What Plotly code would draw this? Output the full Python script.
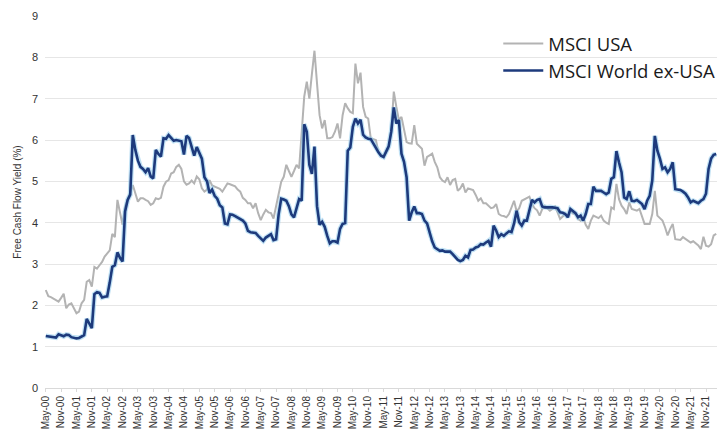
import pandas as pd
import plotly.graph_objects as go

start_month = "2000-05-01"

# MSCI World ex-USA free cash flow yield (%), monthly from May-00
world_ex_usa = (
    [1.26, 1.25, 1.24, 1.23, 1.22, 1.30, 1.27, 1.25, 1.29, 1.28, 1.23, 1.22]
    + [1.20, 1.21, 1.24, 1.28, 1.67, 1.57, 1.45, 2.27, 2.32, 2.30, 2.19, 2.21]
    + [2.22, 2.55, 2.93, 2.97, 3.28, 3.15, 3.06, 4.27, 4.55, 4.68, 6.12, 5.76]
    + [5.50, 5.35, 5.30, 5.22, 5.32, 5.12, 5.07, 5.76, 5.66, 5.60, 6.04, 6.03]
    + [6.12, 6.05, 5.98, 6.00, 5.99, 5.97, 5.65, 6.10, 6.05, 5.85, 5.62, 5.83]
    + [5.70, 5.55, 5.10, 5.00, 4.72, 4.80, 4.65, 4.58, 4.42, 4.37, 3.98, 3.96]
    + [4.20, 4.19, 4.16, 4.12, 4.09, 4.05, 3.98, 3.80, 3.77, 3.76, 3.75, 3.68]
    + [3.62, 3.56, 3.64, 3.68, 3.72, 3.58, 3.60, 4.20, 4.58, 4.56, 4.53, 4.40]
    + [4.20, 4.13, 4.37, 4.57, 4.53, 6.38, 6.20, 5.40, 5.18, 5.84, 4.40, 3.95]
    + [4.02, 3.90, 3.68, 3.50, 3.55, 3.55, 3.52, 3.85, 3.97, 3.99, 5.74, 5.82]
    + [6.32, 6.52, 6.40, 6.49, 6.13, 6.06, 6.03, 6.02, 5.92, 5.80, 5.70, 5.62]
    + [5.59, 5.72, 5.85, 6.20, 6.79, 6.40, 6.48, 5.67, 5.47, 5.10, 4.05, 4.25]
    + [4.39, 4.23, 4.23, 4.21, 4.05, 3.98, 3.75, 3.55, 3.40, 3.35, 3.32, 3.33]
    + [3.30, 3.30, 3.30, 3.24, 3.18, 3.10, 3.07, 3.10, 3.20, 3.16, 3.34, 3.35]
    + [3.40, 3.42, 3.48, 3.47, 3.52, 3.56, 3.42, 3.93, 3.81, 3.65, 3.72, 3.68]
    + [3.74, 3.79, 3.77, 3.98, 4.29, 4.01, 3.93, 4.05, 4.05, 4.29, 4.55, 4.49]
    + [4.55, 4.57, 4.39, 4.37, 4.37, 4.38, 4.37, 4.36, 4.35, 4.25, 4.24, 4.21]
    + [4.13, 4.33, 4.28, 4.23, 4.13, 4.17, 4.05, 4.21, 4.45, 4.45, 4.87, 4.77]
    + [4.77, 4.77, 4.73, 4.69, 4.73, 5.06, 5.10, 5.73, 5.46, 5.22, 4.61, 4.57]
    + [4.76, 4.53, 4.52, 4.55, 4.50, 4.45, 4.33, 4.53, 4.65, 5.02, 6.10, 5.74]
    + [5.55, 5.30, 5.34, 5.22, 5.30, 5.46, 4.81, 4.80, 4.79, 4.75, 4.70, 4.61]
    + [4.49, 4.53, 4.50, 4.47, 4.53, 4.57, 4.70, 5.30, 5.55, 5.64, 5.66]
)

# MSCI USA free cash flow yield (%), monthly from May-00
usa = (
    [2.37, 2.22, 2.20, 2.17, 2.12, 2.09, 2.18, 2.28, 1.93, 2.02, 2.05, 1.92]
    + [1.81, 1.85, 2.05, 2.13, 2.57, 2.61, 2.45, 2.93, 2.89, 2.97, 3.05, 3.18]
    + [3.25, 3.33, 3.73, 3.65, 4.55, 4.25, 3.95, 4.39, 4.55, 4.71, 4.91, 4.71]
    + [4.51, 4.59, 4.59, 4.55, 4.52, 4.43, 4.47, 4.59, 4.57, 4.60, 4.87, 4.99]
    + [5.03, 5.19, 5.22, 5.35, 5.40, 5.30, 5.00, 4.92, 4.95, 5.02, 4.95, 5.12]
    + [5.05, 4.83, 4.75, 4.80, 5.03, 4.90, 4.87, 4.85, 4.82, 4.75, 4.85, 4.95]
    + [4.93, 4.91, 4.88, 4.80, 4.75, 4.60, 4.55, 4.47, 4.47, 4.35, 4.47, 4.23]
    + [4.06, 4.20, 4.31, 4.25, 4.23, 4.10, 4.39, 4.70, 4.99, 5.11, 5.40, 5.25]
    + [5.11, 5.25, 5.40, 5.31, 6.32, 7.05, 7.41, 7.00, 7.60, 8.16, 7.37, 6.60]
    + [6.28, 6.48, 6.04, 6.04, 6.07, 6.20, 6.40, 6.04, 6.60, 6.89, 6.77, 6.68]
    + [6.65, 7.85, 7.37, 7.63, 6.80, 6.56, 6.52, 6.04, 6.02, 6.00, 5.71, 5.65]
    + [5.59, 5.70, 5.79, 6.23, 7.17, 6.80, 6.48, 6.56, 6.23, 5.95, 5.92, 5.91]
    + [6.36, 5.91, 5.85, 5.79, 5.38, 5.59, 5.63, 5.67, 5.47, 5.34, 5.10, 5.02]
    + [4.98, 5.10, 4.91, 5.03, 5.06, 4.77, 4.83, 4.95, 4.73, 4.83, 4.81, 4.79]
    + [4.67, 4.53, 4.59, 4.47, 4.47, 4.41, 4.35, 4.37, 4.45, 4.21, 4.17, 4.16]
    + [4.13, 4.21, 4.35, 4.53, 4.27, 4.35, 4.53, 4.57, 4.61, 4.63, 4.45, 4.35]
    + [4.30, 4.17, 4.33, 4.41, 4.35, 4.29, 4.33, 4.39, 4.25, 4.09, 4.15, 4.21]
    + [4.17, 4.29, 4.22, 4.21, 4.09, 4.05, 4.13, 3.95, 3.85, 4.05, 4.17, 4.14]
    + [4.11, 4.17, 4.05, 4.00, 3.97, 4.37, 4.33, 4.94, 4.57, 4.41, 4.33, 4.21]
    + [4.49, 4.33, 4.30, 4.29, 4.33, 4.13, 3.97, 3.97, 3.97, 4.21, 4.77, 4.17]
    + [4.10, 4.05, 3.89, 3.69, 3.85, 3.97, 3.60, 3.59, 3.58, 3.65, 3.60, 3.56]
    + [3.52, 3.55, 3.50, 3.45, 3.36, 3.66, 3.44, 3.42, 3.48, 3.69, 3.73]
)

assert len(usa) == len(world_ex_usa), (len(usa), len(world_ex_usa))
n = len(usa)
months = pd.date_range(start_month, periods=n, freq="MS")
month_labels = [d.strftime("%b-%y") for d in months]
x_idx = list(range(n))
tick_vals = x_idx[::6]
tick_text = month_labels[::6]

axis_font = dict(family="Liberation Sans, Arial", size=10, color="#333333")

fig = go.Figure()
fig.add_trace(go.Scatter(
    x=x_idx, y=usa, mode="lines", name="MSCI USA",
    line=dict(color="#b3b3b3", width=2),
    customdata=month_labels, hovertemplate="%{customdata}: %{y:.2f}%<extra>MSCI USA</extra>",
))
fig.add_trace(go.Scatter(
    x=x_idx, y=world_ex_usa, mode="lines", showlegend=False, hoverinfo="skip",
    line=dict(color="rgba(140,200,235,0.55)", width=5),
))
fig.add_trace(go.Scatter(
    x=x_idx, y=world_ex_usa, mode="lines", name="MSCI World ex-USA",
    line=dict(color="#1d3a7c", width=2.6),
    customdata=month_labels, hovertemplate="%{customdata}: %{y:.2f}%<extra>MSCI World ex-USA</extra>",
))

fig.update_layout(
    width=717, height=429,
    margin=dict(l=45, r=0, t=16, b=41, autoexpand=False),
    paper_bgcolor="white", plot_bgcolor="white",
    showlegend=True,
    legend=dict(
        x=0.6745, y=0.976, xanchor="left", yanchor="top",
        font=dict(family="Open Sans, Noto Sans", size=18.5, color="#1a1a1a"),
        bgcolor="rgba(0,0,0,0)", tracegroupgap=0, itemwidth=40,
    ),
    xaxis=dict(
        range=[-0.3, n - 0.7], automargin=False,
        tickmode="array", tickvals=tick_vals, ticktext=tick_text,
        tickangle=-90, tickfont=axis_font,
        showgrid=False, zeroline=False,
        showline=True, linecolor="#d9d9d9", linewidth=1,
        ticks="outside", ticklen=3, tickcolor="#d9d9d9",
    ),
    yaxis=dict(
        range=[0, 9], dtick=1, tickfont=dict(family="Liberation Sans, Arial", size=11, color="#333333"),
        showgrid=True, gridcolor="#e6e6e6", gridwidth=1, automargin=False,
        zeroline=False, showline=False, ticks="", ticklabelstandoff=6,
        title=dict(text="Free Cash Flow Yield (%)", font=dict(family="Liberation Sans, Arial", size=10, color="#333333"), standoff=8),
    ),
)

fig.write_html(
    "out.html",
    config={"displayModeBar": False},
    post_script="document.body.style.margin='0px';document.body.style.overflow='hidden';",
)
